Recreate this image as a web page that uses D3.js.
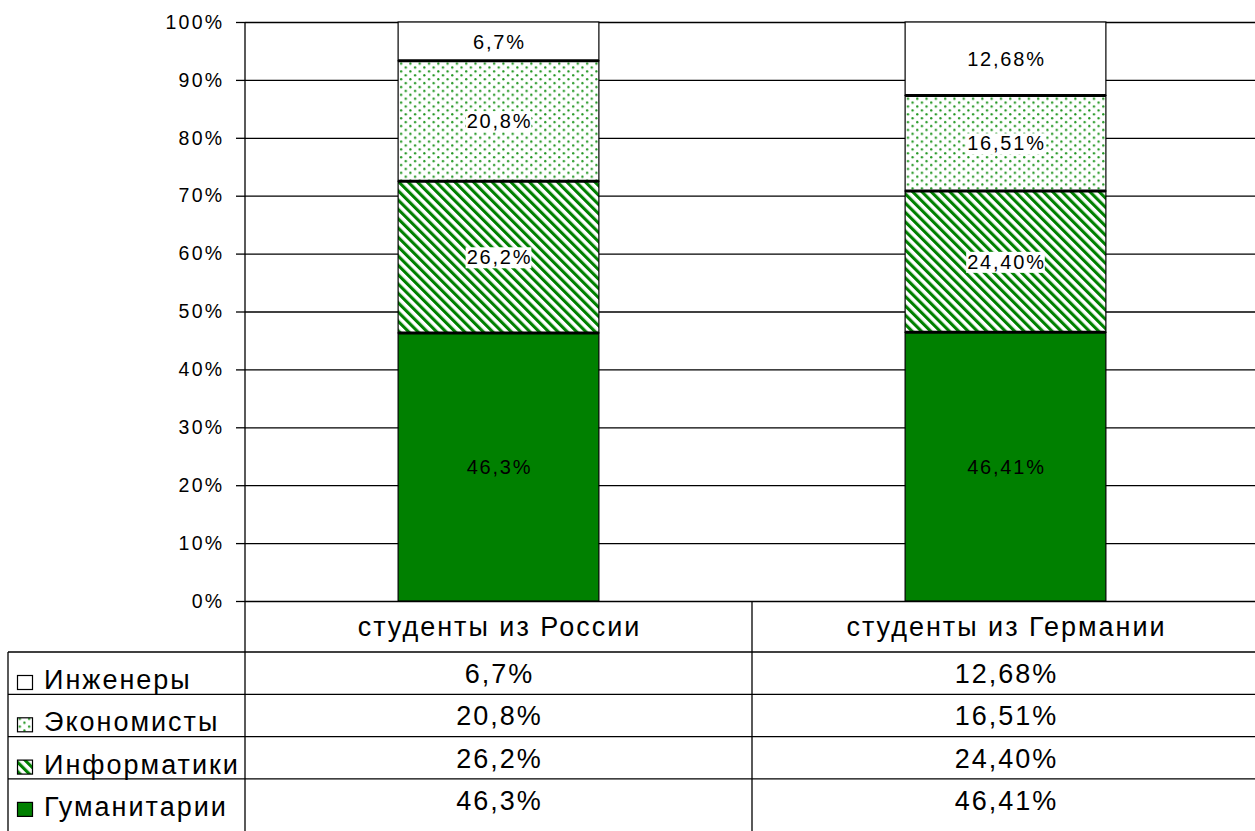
<!DOCTYPE html>
<html>
<head>
<meta charset="utf-8">
<script src="https://cdnjs.cloudflare.com/ajax/libs/d3/7.8.5/d3.min.js"></script>
<style>
  body { margin: 0; background: #fff; }
  text { font-family: Arial, "Liberation Sans", sans-serif; fill: #000; }
</style>
</head>
<body>
<svg class="chart"></svg>
<script>
// data
var categories = ["студенты из России", "студенты из Германии"];
var seriesNames = ["Гуманитарии", "Информатики", "Экономисты", "Инженеры"]; // bottom to top
var russiaValues = [46.3, 26.2, 20.8, 6.7];
var germanyValues = [46.41, 24.40, 16.51, 12.68];
var russiaLabels = ["46,3%", "26,2%", "20,8%", "6,7%"];
var germanyLabels = ["46,41%", "24,40%", "16,51%", "12,68%"];
var yTicks = [0, 10, 20, 30, 40, 50, 60, 70, 80, 90, 100];

// layout
var width = 1255, height = 831;
var plot = {left: 245, right: 1259, top: 22, bottom: 601};
var tableTop = 652, rowH = 42.3, legendLeft = 8;

var fills = ["#008000", "url(#stripes)", "url(#dots)", "#fff"];

var svg = d3.select(".chart")
  .attr("width", width)
  .attr("height", height);

// patterns
var defs = svg.append("defs");
var dots = defs.append("pattern")
  .attr("id", "dots")
  .attr("patternUnits", "userSpaceOnUse")
  .attr("width", 9.3)
  .attr("height", 7.8);
dots.append("rect").attr("width", 9.3).attr("height", 7.8).attr("fill", "#fff");
dots.append("circle").attr("cx", 1.2).attr("cy", 1.2).attr("r", 1.15).attr("fill", "#1f951f");
dots.append("circle").attr("cx", 5.85).attr("cy", 5.1).attr("r", 1.15).attr("fill", "#1f951f");

var stripes = defs.append("pattern")
  .attr("id", "stripes")
  .attr("patternUnits", "userSpaceOnUse")
  .attr("width", 6.6)
  .attr("height", 6.6)
  .attr("patternTransform", "rotate(-45)");
stripes.append("rect").attr("width", 6.6).attr("height", 6.6).attr("fill", "#fff");
stripes.append("rect").attr("width", 3.1).attr("height", 6.6).attr("fill", "#008000");

// scales
var x = d3.scaleBand()
  .domain(categories)
  .range([plot.left, plot.right])
  .paddingInner(0.604)
  .paddingOuter(0.302);

var y = d3.scaleLinear()
  .domain([0, 100])
  .range([plot.bottom, plot.top]);

// gridlines
var grid = svg.append("g")
  .attr("transform", "translate(" + plot.left + ",0)")
  .call(d3.axisLeft(y).tickValues(yTicks).tickSize(-(width - plot.left)).tickFormat(""));
grid.select(".domain").remove();
grid.selectAll("line").attr("stroke", "#000").attr("stroke-width", 1.3);

// y axis
var yAxis = svg.append("g")
  .attr("transform", "translate(" + plot.left + ",0)")
  .call(d3.axisLeft(y).tickValues(yTicks).tickSize(9).tickPadding(11.5)
    .tickFormat(function(d) { return d + "%"; }));
yAxis.select(".domain").remove();
yAxis.selectAll("line").attr("stroke", "#000").attr("stroke-width", 1.3);
yAxis.selectAll("text")
  .style("font-family", "Arial, 'Liberation Sans', sans-serif")
  .style("font-size", "19.5px")
  .style("letter-spacing", "2.3px")
  .attr("fill", "#000");

// stacked data
var rows = categories.map(function(c, i) {
  var vals = i === 0 ? russiaValues : germanyValues;
  var row = {category: c, labels: i === 0 ? russiaLabels : germanyLabels};
  seriesNames.forEach(function(s, j) { row[s] = vals[j]; });
  return row;
});
var stacked = d3.stack().keys(seriesNames)(rows);

// bars
var layers = svg.selectAll(".layer")
  .data(stacked)
  .enter().append("g")
  .attr("class", "layer");

layers.selectAll("rect")
  .data(function(s) { return s.map(function(d) { d.index = s.index; return d; }); })
  .enter().append("rect")
  .attr("x", function(d) { return x(d.data.category); })
  .attr("y", function(d) { return y(d[1]); })
  .attr("width", x.bandwidth())
  .attr("height", function(d) { return y(d[0]) - y(d[1]); })
  .attr("fill", function(d) { return fills[d.index]; })
  .attr("stroke", "#000")
  .attr("stroke-width", 1.2);

// thick separators between segments
layers.filter(function(s) { return s.index > 0; })
  .selectAll("line")
  .data(function(s) { return s; })
  .enter().append("line")
  .attr("x1", function(d) { return x(d.data.category); })
  .attr("x2", function(d) { return x(d.data.category) + x.bandwidth(); })
  .attr("y1", function(d) { return y(d[0]); })
  .attr("y2", function(d) { return y(d[0]); })
  .attr("stroke", "#000")
  .attr("stroke-width", 3);

// bar labels
layers.each(function(s) {
  var g = d3.select(this);
  s.forEach(function(d) {
    var lbl = g.append("g");
    var t = lbl.append("text")
      .attr("x", x(d.data.category) + x.bandwidth() / 2 + 1)
      .attr("y", y((d[0] + d[1]) / 2))
      .attr("dy", "0.36em")
      .style("text-anchor", "middle")
      .style("font-size", "20px")
      .style("letter-spacing", "1.8px")
      .text(d.data.labels[s.index]);
    if (s.index === 1 || s.index === 2) {
      var b = t.node().getBBox();
      lbl.insert("rect", "text")
        .attr("x", b.x - 1)
        .attr("y", b.y + 1)
        .attr("width", b.width)
        .attr("height", b.height - 1)
        .attr("fill", "#fff");
    }
  });
});

// table lines
var lines = svg.append("g").attr("stroke", "#000").attr("stroke-width", 1.3);
lines.append("line")
  .attr("x1", plot.left).attr("x2", plot.left)
  .attr("y1", plot.top).attr("y2", height);
d3.range(1, categories.length).forEach(function(i) {
  var xx = plot.left + i * x.step();
  lines.append("line")
    .attr("x1", xx).attr("x2", xx)
    .attr("y1", plot.bottom).attr("y2", height);
});
lines.append("line")
  .attr("x1", legendLeft).attr("x2", legendLeft)
  .attr("y1", tableTop).attr("y2", height);
d3.range(0, seriesNames.length).forEach(function(k) {
  lines.append("line")
    .attr("x1", legendLeft).attr("x2", width)
    .attr("y1", tableTop + k * rowH).attr("y2", tableTop + k * rowH);
});

// category headers
svg.selectAll(".cat")
  .data(categories)
  .enter().append("text")
  .attr("class", "cat")
  .attr("x", function(d) { return x(d) + x.bandwidth() / 2 + 1; })
  .attr("y", plot.bottom + 35)
  .style("text-anchor", "middle")
  .style("font-size", "27px")
  .style("letter-spacing", "2px")
  .text(function(d) { return d; });

// table rows (legend order: top series first)
var legendOrder = seriesNames.slice().reverse();
legendOrder.forEach(function(s, k) {
  var si = seriesNames.indexOf(s);
  var top = tableTop + k * rowH;

  svg.append("rect")
    .attr("x", 17.5)
    .attr("y", top + 23.5)
    .attr("width", 15)
    .attr("height", 14)
    .attr("fill", fills[si])
    .attr("stroke", "#000")
    .attr("stroke-width", 1.2);

  svg.append("text")
    .attr("x", 44)
    .attr("y", top + 37)
    .style("font-size", "27px")
    .style("letter-spacing", "2px")
    .text(s);

  rows.forEach(function(r) {
    svg.append("text")
      .attr("x", x(r.category) + x.bandwidth() / 2 + 1)
      .attr("y", top + 31)
      .style("text-anchor", "middle")
      .style("font-size", "27px")
      .style("letter-spacing", "2px")
      .text(r.labels[si]);
  });
});
</script>
</body>
</html>
